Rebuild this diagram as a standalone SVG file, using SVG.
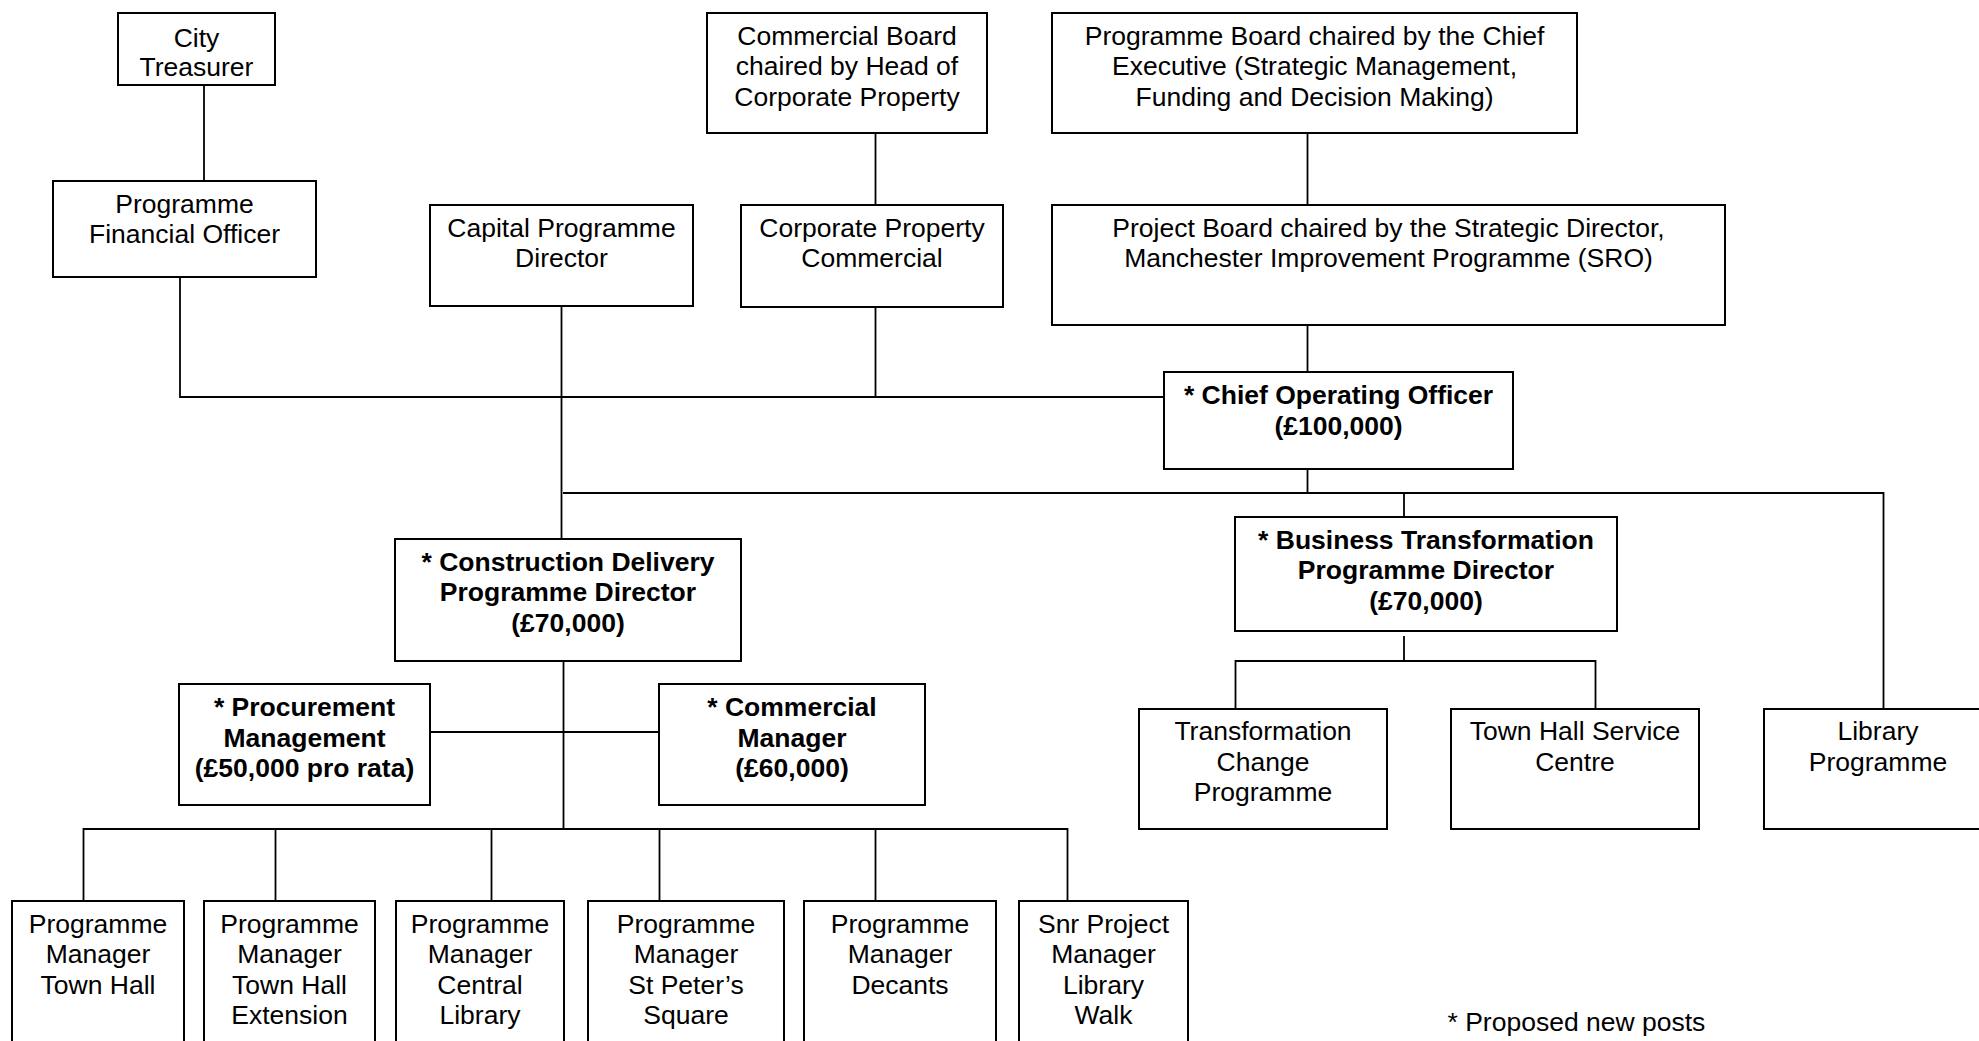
<svg xmlns="http://www.w3.org/2000/svg" width="1979" height="1041" viewBox="0 0 1979 1041">
<style>
  .box { fill: #ffffff; stroke: #000000; stroke-width: 2; }
  .t { font-family: "Liberation Sans", Arial, sans-serif; font-size: 26.5px; fill: #000000; text-anchor: middle; }
  .b { font-weight: bold; }
  .c { fill: none; stroke: #000000; stroke-width: 1.8; }
</style>
<rect width="1979" height="1041" fill="#ffffff"/>
<g id="connectors">
  <path class="c" d="M204,85 V181"/>
  <path class="c" d="M875.5,133 V205"/>
  <path class="c" d="M1307.5,133 V205"/>
  <path class="c" d="M1307.5,325 V372"/>
  <path class="c" d="M180,277 V397 H1164"/>
  <path class="c" d="M561.5,306 V539"/>
  <path class="c" d="M875.5,307 V397"/>
  <path class="c" d="M1307.5,469 V493"/>
  <path class="c" d="M563,493 H1883.5 V709"/>
  <path class="c" d="M1404,493 V517"/>
  <path class="c" d="M1404,636 V661"/>
  <path class="c" d="M1235.5,709 V661 H1595.5 V709"/>
  <path class="c" d="M563.5,661 V829"/>
  <path class="c" d="M430,732 H659"/>
  <path class="c" d="M83.5,901 V829 H1067.5 V901"/>
  <path class="c" d="M275.5,829 V901"/>
  <path class="c" d="M491.5,829 V901"/>
  <path class="c" d="M659.5,829 V901"/>
  <path class="c" d="M875.5,829 V901"/>
</g>
<g id="city-treasurer">
  <rect class="box" x="118" y="13" width="157" height="72"/>
  <text class="t" x="196.5" y="46.5">City</text>
  <text class="t" x="196.5" y="76">Treasurer</text>
</g>
<g id="programme-financial-officer">
  <rect class="box" x="53" y="181" width="263" height="96"/>
  <text class="t" x="184.5" y="212.5">Programme</text>
  <text class="t" x="184.5" y="243">Financial Officer</text>
</g>
<g id="capital-programme-director">
  <rect class="box" x="430" y="205" width="263" height="101"/>
  <text class="t" x="561.5" y="236.5">Capital Programme</text>
  <text class="t" x="561.5" y="267">Director</text>
</g>
<g id="commercial-board">
  <rect class="box" x="707" y="13" width="280" height="120"/>
  <text class="t" x="847" y="44.5">Commercial Board</text>
  <text class="t" x="847" y="75">chaired by Head of</text>
  <text class="t" x="847" y="105.5">Corporate Property</text>
</g>
<g id="programme-board">
  <rect class="box" x="1052" y="13" width="525" height="120"/>
  <text class="t" x="1314.5" y="44.5">Programme Board chaired by the Chief</text>
  <text class="t" x="1314.5" y="75">Executive (Strategic Management,</text>
  <text class="t" x="1314.5" y="105.5">Funding and Decision Making)</text>
</g>
<g id="corporate-property-commercial">
  <rect class="box" x="741" y="205" width="262" height="102"/>
  <text class="t" x="872" y="236.5">Corporate Property</text>
  <text class="t" x="872" y="267">Commercial</text>
</g>
<g id="project-board">
  <rect class="box" x="1052" y="205" width="673" height="120"/>
  <text class="t" x="1388.5" y="236.5">Project Board chaired by the Strategic Director,</text>
  <text class="t" x="1388.5" y="267">Manchester Improvement Programme (SRO)</text>
</g>
<g id="chief-operating-officer">
  <rect class="box" x="1164" y="372" width="349" height="97"/>
  <text class="t b" x="1338.5" y="404">* Chief Operating Officer</text>
  <text class="t b" x="1338.5" y="434.5">(£100,000)</text>
</g>
<g id="construction-delivery-programme-director">
  <rect class="box" x="395" y="539" width="346" height="122"/>
  <text class="t b" x="568" y="570.5">* Construction Delivery</text>
  <text class="t b" x="568" y="601">Programme Director</text>
  <text class="t b" x="568" y="631.5">(£70,000)</text>
</g>
<g id="business-transformation-programme-director">
  <rect class="box" x="1235" y="517" width="382" height="114"/>
  <text class="t b" x="1426" y="548.5">* Business Transformation</text>
  <text class="t b" x="1426" y="579">Programme Director</text>
  <text class="t b" x="1426" y="609.5">(£70,000)</text>
</g>
<g id="procurement-management">
  <rect class="box" x="179" y="684" width="251" height="121"/>
  <text class="t b" x="304.5" y="716">* Procurement</text>
  <text class="t b" x="304.5" y="746.5">Management</text>
  <text class="t b" x="304.5" y="777">(£50,000 pro rata)</text>
</g>
<g id="commercial-manager">
  <rect class="box" x="659" y="684" width="266" height="121"/>
  <text class="t b" x="792" y="716">* Commercial</text>
  <text class="t b" x="792" y="746.5">Manager</text>
  <text class="t b" x="792" y="777">(£60,000)</text>
</g>
<g id="transformation-change-programme">
  <rect class="box" x="1139" y="709" width="248" height="120"/>
  <text class="t" x="1263" y="740">Transformation</text>
  <text class="t" x="1263" y="770.5">Change</text>
  <text class="t" x="1263" y="801">Programme</text>
</g>
<g id="town-hall-service-centre">
  <rect class="box" x="1451" y="709" width="248" height="120"/>
  <text class="t" x="1575" y="740">Town Hall Service</text>
  <text class="t" x="1575" y="770.5">Centre</text>
</g>
<g id="library-programme">
  <rect class="box" x="1764" y="709" width="228" height="120"/>
  <text class="t" x="1878" y="740">Library</text>
  <text class="t" x="1878" y="770.5">Programme</text>
</g>
<g id="pm-town-hall">
  <rect class="box" x="12" y="901" width="172" height="170"/>
  <text class="t" x="98" y="932.5">Programme</text>
  <text class="t" x="98" y="963">Manager</text>
  <text class="t" x="98" y="993.5">Town Hall</text>
</g>
<g id="pm-town-hall-extension">
  <rect class="box" x="204" y="901" width="171" height="170"/>
  <text class="t" x="289.5" y="932.5">Programme</text>
  <text class="t" x="289.5" y="963">Manager</text>
  <text class="t" x="289.5" y="993.5">Town Hall</text>
  <text class="t" x="289.5" y="1024">Extension</text>
</g>
<g id="pm-central-library">
  <rect class="box" x="396" y="901" width="168" height="170"/>
  <text class="t" x="480" y="932.5">Programme</text>
  <text class="t" x="480" y="963">Manager</text>
  <text class="t" x="480" y="993.5">Central</text>
  <text class="t" x="480" y="1024">Library</text>
</g>
<g id="pm-st-peters-square">
  <rect class="box" x="588" y="901" width="196" height="170"/>
  <text class="t" x="686" y="932.5">Programme</text>
  <text class="t" x="686" y="963">Manager</text>
  <text class="t" x="686" y="993.5">St Peter’s</text>
  <text class="t" x="686" y="1024">Square</text>
</g>
<g id="pm-decants">
  <rect class="box" x="804" y="901" width="192" height="170"/>
  <text class="t" x="900" y="932.5">Programme</text>
  <text class="t" x="900" y="963">Manager</text>
  <text class="t" x="900" y="993.5">Decants</text>
</g>
<g id="snr-pm-library-walk">
  <rect class="box" x="1019" y="901" width="169" height="170"/>
  <text class="t" x="1103.5" y="932.5">Snr Project</text>
  <text class="t" x="1103.5" y="963">Manager</text>
  <text class="t" x="1103.5" y="993.5">Library</text>
  <text class="t" x="1103.5" y="1024">Walk</text>
</g>
<text class="t" x="1447.5" y="1030.5" style="text-anchor:start">* Proposed new posts</text>
</svg>
